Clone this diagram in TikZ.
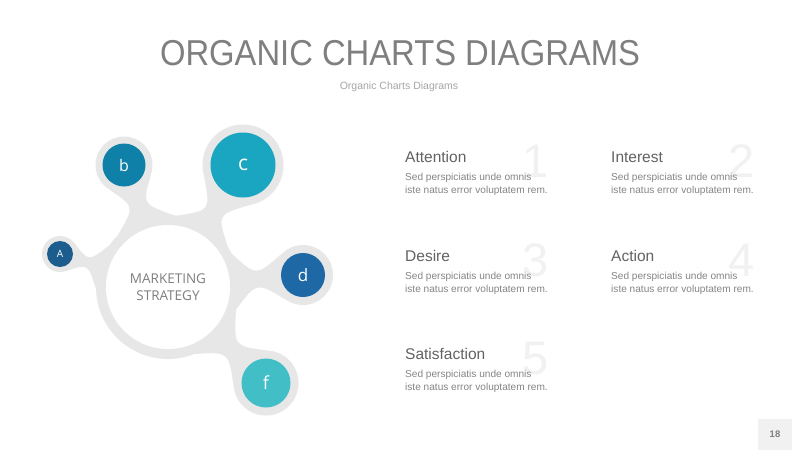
\documentclass[tikz,border=0pt]{standalone}
\usepackage{fontspec}
\setmainfont{Liberation Sans}
\newfontfamily\bubblefont{Open Sans}
\usetikzlibrary{calc}

\definecolor{ringgray}{HTML}{E7E7E7}
\definecolor{titlegray}{HTML}{7F7F7F}
\definecolor{subgray}{HTML}{A6A6A6}
\definecolor{headgray}{HTML}{626262}
\definecolor{bodygray}{HTML}{858585}
\definecolor{numgray}{HTML}{F1F1F1}
\definecolor{colA}{HTML}{1C5D8D}
\definecolor{colb}{HTML}{0F80A7}
\definecolor{colc}{HTML}{1AA5C0}
\definecolor{cold}{HTML}{1D68A5}
\definecolor{colf}{HTML}{41BEC6}

\tikzset{
  ring/.style={circle, fill=ringgray, inner sep=0pt},
  bubble/.style={circle, inner sep=0pt, text=white, font=\bubblefont},
  heading/.style={anchor=base west, text=headgray, font=\fontsize{15.5}{18}\selectfont},
  body/.style={anchor=base west, text=bodygray, align=left, inner sep=0pt,
    font=\fontsize{10.1}{13.5}\selectfont},
  bignum/.style={anchor=base east, text=numgray, inner sep=0pt, font=\fontsize{47}{50}\selectfont},
}

\begin{document}
\begin{tikzpicture}[x=1pt, y=-1pt]
    \fill[white] (0,0) rectangle (800,450);
    \useasboundingbox (0,0) rectangle (800,450);

    % title
    \node[text=titlegray, anchor=base, inner sep=0pt, font=\fontsize{36}{40}\selectfont] (title) at (400,65) {\scalebox{0.91}[1]{ORGANIC CHARTS DIAGRAMS}};
    \node[text=subgray, anchor=base, inner sep=0pt, font=\fontsize{10.5}{12}\selectfont] (subtitle) at (399,89) {Organic Charts Diagrams};

    % rings
    \node[ring, minimum size=144pt] (hubring) at (168,287) {};
    \node[ring, minimum size=36pt] (ringA) at (60,254) {};
    \node[ring, minimum size=57pt] (ringb) at (124,165) {};
    \node[ring, minimum size=81pt] (ringc) at (243,165) {};
    \node[ring, minimum size=60pt] (ringd) at (303,275) {};
    \node[ring, minimum size=65pt] (ringf) at (266,383) {};

    % necks
    \foreach \s/\a/\p/\q/\h/\t in {A/163/18/55/1/0.74, b/110/24/50/4/0.67, c/58/24/40/4/0.61,
                                   d/5/22/48/3/0.655, f/-44/24/46/4/0.646} {
      \pgfmathsetmacro\hl{\a+\p}
      \pgfmathsetmacro\hr{\a-\p}
      \pgfmathsetmacro\sl{\a+180-\q}
      \pgfmathsetmacro\sr{\a+180+\q}
      \fill[ringgray] (hubring.\hl) .. controls ($(hubring)!\t!(ring\s)!\h pt!90:(ring\s)$) .. (ring\s.\sl)
        -- (ring\s.\sr) .. controls ($(hubring)!\t!(ring\s)!\h pt!-90:(ring\s)$) .. (hubring.\hr) -- cycle;
    }

    % hub and bubbles
    \node[circle, fill=white, minimum size=124pt, align=center, text=titlegray,
          font=\bubblefont\fontsize{13.5}{17}\selectfont] (hub) at (168,287) {MARKETING\\STRATEGY};
    \node[bubble, fill=colA, minimum size=26pt, font=\bubblefont\fontsize{10}{11}\selectfont] (A) at (ringA) {A};
    \node[bubble, fill=colb, minimum size=43pt, font=\bubblefont\fontsize{16}{18}\selectfont] (b) at (ringb) {b};
    \node[bubble, fill=colc, minimum size=65pt, font=\bubblefont\fontsize{21}{24}\selectfont] (c) at (ringc) {c};
    \node[bubble, fill=cold, minimum size=44pt, font=\bubblefont\fontsize{17}{20}\selectfont] (d) at (ringd) {d};
    \node[bubble, fill=colf, minimum size=49pt, font=\bubblefont\fontsize{18}{20}\selectfont] (f) at (ringf) {f};

    % text blocks
    \foreach \n/\x/\y/\w in {1/405/162/Attention, 2/611/162/Interest, 3/405/261/Desire,
                             4/611/261/Action, 5/405/359/Satisfaction} {
      \node[bignum] (num\n) at (\x+144,\y+15) {\n};
      \node[heading, inner sep=0pt] (head\n) at (\x,\y) {\w};
      \node[body] (text\n) at (\x,\y+31.5) {Sed perspiciatis unde omnis\\iste natus error voluptatem rem.};
    }

    % page number
    \fill[numgray] (758,419) rectangle (792,450);
    \node[text=titlegray, font=\bfseries\fontsize{9.5}{11}\selectfont] (page) at (775,434.5) {18};
\end{tikzpicture}
\end{document}
